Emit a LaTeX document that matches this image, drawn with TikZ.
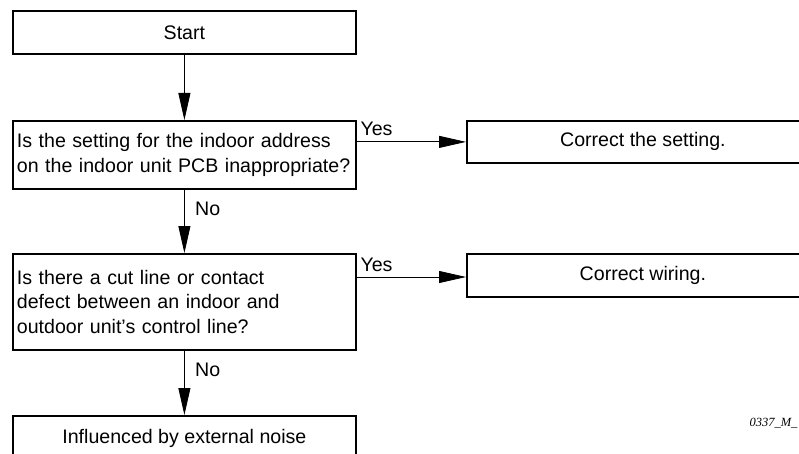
\documentclass[tikz,border=0pt]{standalone}
\usepackage{fontspec}
\setmainfont{Liberation Sans}
\newfontfamily\tagfont{Liberation Serif}
\usetikzlibrary{arrows.meta}
\hyphenpenalty=10000
\begin{document}
\begin{tikzpicture}[x=1pt, y=-1pt,
    box/.style={draw, line width=1.8pt, inner sep=4pt, anchor=north west,
        minimum width=343pt, font={\fontsize{19.6}{24.5}\selectfont}},
    query/.style={box, text width=335pt, align=left},
    flow/.style={-{Triangle[length=27pt, width=12pt]}, line width=0.8pt},
    lbl/.style={font={\fontsize{19.6}{24.5}\selectfont}}]
    \useasboundingbox (0,0) rectangle (799,454);
    \clip (0,0) rectangle (799,454);
    % main column
    \node[box, minimum height=43pt] (start) at (12,10) {Start};
    \node[query, minimum height=68pt] (q1) at (12,120)
        {Is the setting for the indoor address\\on the indoor unit PCB inappropriate?};
    \node[query, minimum height=96pt] (q2) at (12,253)
        {Is there a cut line or contact\\defect between an indoor and\\outdoor unit’s control line?};
    \node[box, minimum height=46pt] (noise) at (12,415) {Influenced by external noise};
    % remedies
    \node[box, minimum width=352pt, minimum height=42pt] (fix1) at (466,120) {Correct the setting.};
    \node[box, minimum width=352pt, minimum height=43pt] (fix2) at (466,253) {Correct wiring.};
    \draw[flow] (start) -- (q1);
    \draw[flow] (q1) -- (q2) node[lbl, pos=0.3, right=7pt] {No};
    \draw[flow] (q2) -- (noise) node[lbl, pos=0.29, right=7pt] {No};
    \draw[flow] (fix1.west -| q1.east) -- (fix1.west) node[lbl, pos=0, above right, yshift=2pt] {Yes};
    \draw[flow] (q2.east |- 0,277) -- (fix2.west |- 0,277) node[lbl, pos=0, above right, yshift=2pt] {Yes};
    \node[anchor=west, font={\tagfont\itshape\fontsize{12.5}{15}\selectfont}] (tag) at (746,423) {0337\_M\_};
\end{tikzpicture}
\end{document}
